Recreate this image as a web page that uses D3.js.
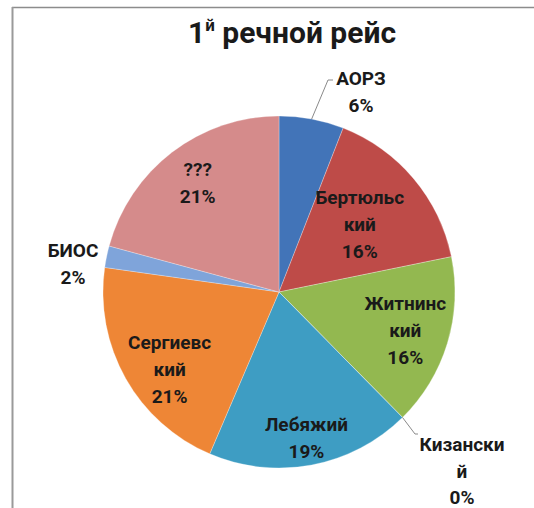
<!DOCTYPE html>
<html>
<head>
<meta charset="utf-8">
<script src="https://cdn.jsdelivr.net/npm/d3@7"></script>
<style>
  html, body { margin: 0; padding: 0; background: #fff; }
  svg { display: block; }
  text { font-family: Roboto, "Noto Sans", sans-serif; font-weight: bold; fill: #1a1a1a; }
</style>
</head>
<body>
<svg id="chart" width="534" height="508"></svg>
<script>
// Share of catch by fishery site, first river trip
const categories = ["АОРЗ", "Бертюльс\nкий", "Житнинс\nкий", "Кизански\nй", "Лебяжий", "Сергиевс\nкий", "БИОС", "???"];
const percents = [6, 16, 16, 0, 19, 21, 2, 21];
const colors = ["#4274B8", "#BE4B48", "#93B850", "#7F63A1", "#3E9DC3", "#EE8636", "#7FA4DA", "#D58B8B"];
const titleMain = "1";
const titleSup = "й";
const titleRest = " речной рейс";

const svg = d3.select("#chart");
const W = 534, H = 508;
const cx = 279, cy = 292, R = 176;

// chart frame (top and left edges are visible)
svg.append("line").attr("x1", 12).attr("y1", 7.5).attr("x2", W).attr("y2", 7.5)
  .attr("stroke", "#8c8c8c").attr("stroke-width", 1.5);
svg.append("line").attr("x1", 12.5).attr("y1", 7).attr("x2", 12.5).attr("y2", H)
  .attr("stroke", "#9a9a9a").attr("stroke-width", 2);

// title
const title = svg.append("text").attr("x", 292).attr("y", 43)
  .attr("text-anchor", "middle").style("font-size", "30px");
title.append("tspan").text(titleMain);
title.append("tspan").attr("dy", -12).style("font-size", "17px").text(titleSup);
title.append("tspan").attr("dy", 12).text(titleRest);

const pie = d3.pie().sort(null).value(d => d)
  .startAngle(0).endAngle(2 * Math.PI);
const arcs = pie(percents);
const arc = d3.arc().innerRadius(0).outerRadius(R);

const g = svg.append("g").attr("transform", `translate(${cx},${cy})`);
g.selectAll("path").data(arcs).join("path")
  .attr("d", arc)
  .attr("fill", (d, i) => colors[i])
  .attr("stroke", "rgba(255,255,255,0.35)")
  .attr("stroke-width", 0.8);

// label placement: inside labels sit on the bisector at a fraction of the radius,
// outside labels are set beside the pie with a leader line
const mid = d => (d.startAngle + d.endAngle) / 2;
const polar = (a, r) => [r * Math.sin(a), -r * Math.cos(a)];
const placement = [
  { pos: d => [82, -201], leader: d => { const p = polar(mid(d), R); return [p, [49, -212], [54, -212]]; } },
  { pos: d => polar(mid(d), R * 0.6) },
  { pos: d => polar(mid(d), R * 0.75) },
  { pos: d => [183, 152], leader: d => { const p = polar(mid(d), R); return [p, [136, 142], [139, 142]]; } },
  { pos: d => polar(mid(d), R * 0.84) },
  { pos: d => polar(mid(d) - 0.1, R * 0.76) },
  { pos: d => [-206, -29] },
  { pos: d => polar(mid(d) + 0.015, R * 0.775) }
];

const lineGap = 27;
arcs.forEach((d, i) => {
  const place = placement[i];
  if (place.leader) {
    g.append("path")
      .attr("d", d3.line()(place.leader(d)))
      .attr("fill", "none").attr("stroke", "#8a8a8a").attr("stroke-width", 1);
  }
  const lines = categories[i].split("\n").concat([percents[i] + "%"]);
  let [x, y] = place.pos(d);
  // the Кизанский block hangs down from its first line
  const top = i === 3 ? y : y - (lines.length - 1) * lineGap / 2;
  const gap = i === 3 ? 26.5 : lineGap;
  const t = g.append("text").attr("text-anchor", "middle").style("font-size", "19px");
  lines.forEach((s, k) => {
    t.append("tspan").attr("x", x).attr("y", top + k * gap + 7).text(s);
  });
});
</script>
</body>
</html>
